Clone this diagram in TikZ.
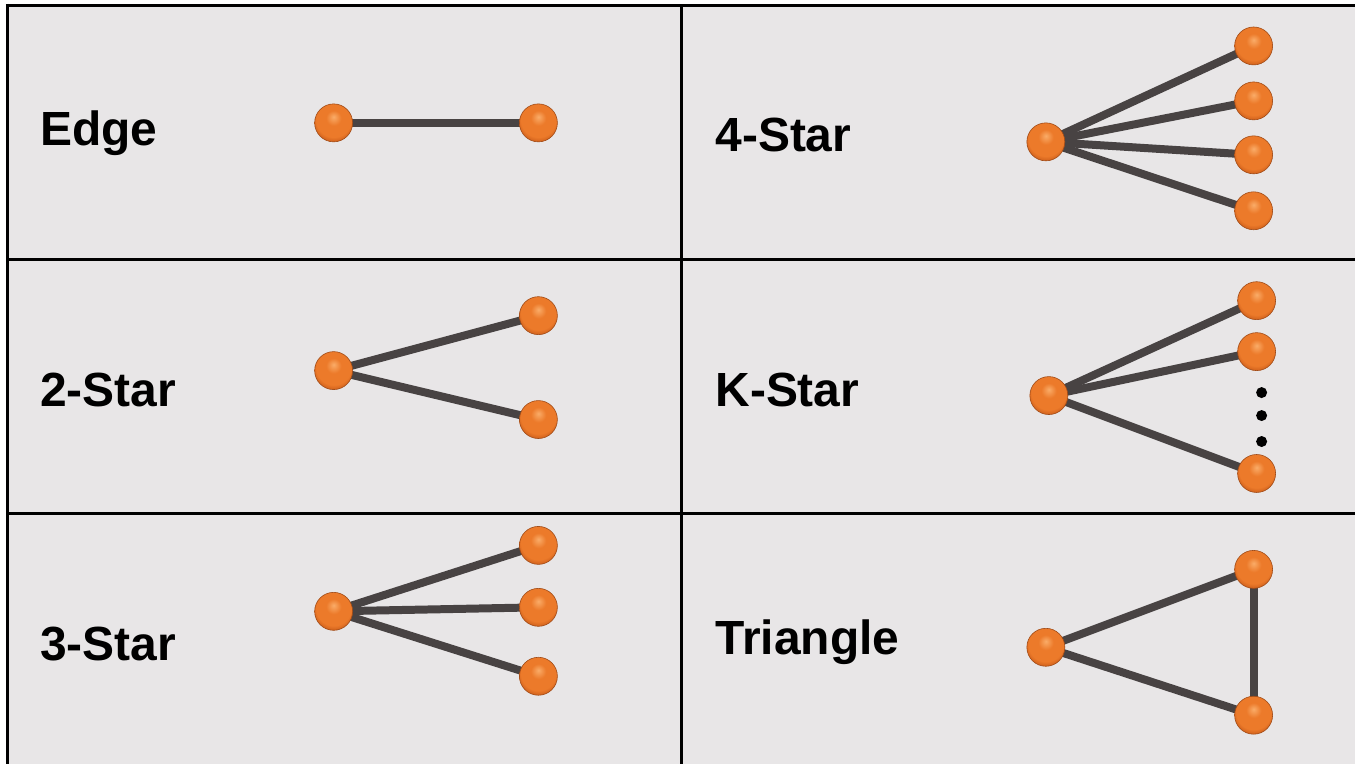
\documentclass[tikz,border=0pt]{standalone}
\usepackage{fontspec}
\setmainfont{Liberation Sans}
\definecolor{bgray}{RGB}{232,230,231}
\definecolor{edgegray}{RGB}{72,67,67}
\definecolor{orbhi}{RGB}{250,172,104}
\definecolor{orbmid}{RGB}{236,122,42}
\definecolor{orbdk}{RGB}{205,94,26}
\definecolor{orbedge}{RGB}{150,70,22}
\pgfdeclareradialshading{orb}{\pgfqpoint{0bp}{8bp}}{color(0bp)=(orbhi); color(10bp)=(orbmid); color(23bp)=(orbmid); color(29bp)=(orbdk); color(33bp)=(orbedge); color(50bp)=(orbedge)}
\pgfdeclarelayer{bglayer}
\pgfdeclarelayer{linklayer}
\pgfsetlayers{bglayer,linklayer,main}
\tikzset{
  grid/.style={line width=3pt,black},
  vx/.style={circle,minimum size=38pt,inner sep=0pt,shading=orb,draw=orbedge!80!orbdk,line width=0.6pt},
  lk/.style={line width=8pt,edgegray},
  lbl/.style={anchor=west,font=\fontsize{48}{52}\selectfont\bfseries,text=black,inner sep=0pt},
  dot/.style={circle,fill=black,minimum size=11pt,inner sep=0pt}
}
\begin{document}
\begin{tikzpicture}[x=1pt,y=-1pt]
\begin{pgfonlayer}{bglayer}
\fill[white] (0,0) rectangle (1356,765);
\fill[bgray] (7.5,5.5) rectangle (1356,765);
\draw[grid] (6,5.5) -- (1356,5.5);
\draw[grid] (7.5,4) -- (7.5,765);
\draw[grid] (682.5,5.5) -- (682.5,765);
\draw[grid] (7.5,259.5) -- (1356,259.5);
\draw[grid] (7.5,514) -- (1356,514);
\end{pgfonlayer}
\useasboundingbox (0,0) rectangle (1356,765);
% labels
\node[lbl] (tEdge) at (40,133) {Edge};
\node[lbl] (t2) at (40,390) {2-Star};
\node[lbl] (t3) at (40,645) {3-Star};
\node[lbl] (t4) at (716,135) {4-Star};
\node[lbl] (tK) at (716,390) {K-Star};
\node[lbl] (tT) at (716,643) {Triangle};
% Edge
\node[vx] (e1) at (334,123) {};
\node[vx] (e2) at (539,123) {};
% 2-Star
\node[vx] (s2c) at (334,371) {};
\node[vx] (s2a) at (539,316) {};
\node[vx] (s2b) at (539,420) {};
% 3-Star
\node[vx] (s3c) at (334,612) {};
\node[vx] (s3a) at (539,546) {};
\node[vx] (s3b) at (539,608) {};
\node[vx] (s3d) at (539,677) {};
% 4-Star
\node[vx] (s4c) at (1047,142) {};
\node[vx] (s4a) at (1255,46) {};
\node[vx] (s4b) at (1255,101) {};
\node[vx] (s4d) at (1255,155) {};
\node[vx] (s4e) at (1255,211) {};
% K-Star
\node[vx] (skc) at (1050,396) {};
\node[vx] (ska) at (1258,301) {};
\node[vx] (skb) at (1258,352) {};
\node[vx] (skd) at (1258,474) {};
\node[dot] (d1) at (1263,393) {};
\node[dot] (d2) at (1263,416) {};
\node[dot] (d3) at (1263,442) {};
% Triangle
\node[vx] (tc) at (1047,648) {};
\node[vx] (ta) at (1255,570) {};
\node[vx] (tb) at (1255,716) {};
% links
\begin{pgfonlayer}{linklayer}
\draw[lk] (e1.center) -- (e2.center);
\draw[lk] (s2c.center) -- (s2a.center);
\draw[lk] (s2c.center) -- (s2b.center);
\draw[lk] (s3c.center) -- (s3a.center);
\draw[lk] (s3c.center) -- (s3b.center);
\draw[lk] (s3c.center) -- (s3d.center);
\draw[lk] (s4c.center) -- (s4a.center);
\draw[lk] (s4c.center) -- (s4b.center);
\draw[lk] (s4c.center) -- (s4d.center);
\draw[lk] (s4c.center) -- (s4e.center);
\draw[lk] (skc.center) -- (ska.center);
\draw[lk] (skc.center) -- (skb.center);
\draw[lk] (skc.center) -- (skd.center);
\draw[lk] (tc.center) -- (ta.center);
\draw[lk] (tc.center) -- (tb.center);
\draw[lk] (ta.center) -- (tb.center);
\end{pgfonlayer}
\end{tikzpicture}
\end{document}
